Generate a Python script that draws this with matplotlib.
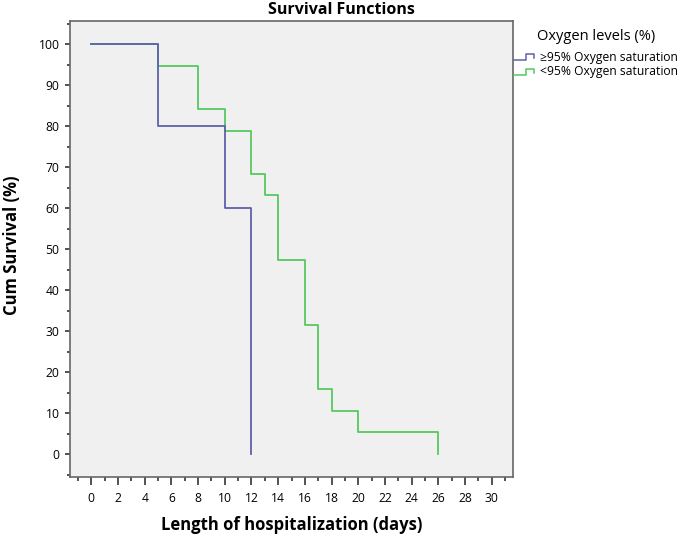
import matplotlib
matplotlib.use("Agg")
import matplotlib.pyplot as plt
from matplotlib.lines import Line2D
from matplotlib.ticker import MultipleLocator

# Data: step survival curves
high_days = [0, 5, 10, 12]
high_surv = [100, 80, 60, 0]
low_days = [0, 5, 8, 10, 12, 13, 14, 16, 17, 18, 20, 26]
low_surv = [100, 94.7, 84.2, 78.9, 68.4, 63.2, 47.4, 31.6, 15.8, 10.5, 5.3, 0]
series_labels = ["\u226595% Oxygen saturation", "<95% Oxygen saturation"]
legend_title = "Oxygen levels (%)"

blue = "#5d62aa"
green = "#55c95e"

plt.rcParams['font.family'] = ['Open Sans', 'DejaVu Sans']

fig = plt.figure(figsize=(6.85, 5.4), dpi=100)
ax = fig.add_axes([70/685, 1-477/540, (513-70)/685, (477-21)/540])
ax.set_facecolor("#f0f0f0")

def steps(days, surv):
    xs, ys = [days[0]], [surv[0]]
    for i in range(1, len(days)):
        xs += [days[i], days[i]]
        ys += [surv[i-1], surv[i]]
    return xs, ys

x1, y1 = steps(high_days, high_surv)
x2, y2 = steps(low_days, low_surv)
ax.plot(x2, y2, color=green, lw=1.3)
ax.plot(x1, y1, color=blue, lw=1.3)

ax.set_xlim(-1.6, 31.6)
ax.set_ylim(-5.6, 105.7)
ax.xaxis.set_major_locator(MultipleLocator(2))
ax.xaxis.set_minor_locator(MultipleLocator(1))
ax.yaxis.set_major_locator(MultipleLocator(10))
ax.yaxis.set_minor_locator(MultipleLocator(5))
ax.set_yticks(range(0, 101, 10))
ax.tick_params(axis='x', which='major', length=5.5, width=1.2, color="#333333", labelsize=8.7, pad=5)
ax.tick_params(axis='y', which='major', length=3.5, width=1.2, color="#333333", labelsize=8.7, pad=4)
ax.tick_params(axis='x', which='minor', length=3, width=1.2, color="#333333")
ax.tick_params(axis='y', which='minor', length=2.5, width=1.2, color="#333333")
for s in ax.spines.values():
    s.set_color("#666666")
    s.set_linewidth(1.2)

fig.text(292/685, 1-525/540, "Length of hospitalization (days)", ha='center', va='center',
         fontsize=12, fontweight='bold')
fig.text(12/685, 1-245/540, "Cum Survival (%)", ha='center', va='center', rotation=90,
         fontsize=12, fontweight='bold')
fig.text(0.498, 1-10/540, "Survival Functions", ha='center', va='center', fontsize=11.5, fontweight='bold')

fig.text(537/685, 1-37/540, legend_title, ha='left', va='center', fontsize=10.5)
fig.text(540/685, 1-57/540, series_labels[0], ha='left', va='center', fontsize=8.7)
fig.text(540/685, 1-72/540, series_labels[1], ha='left', va='center', fontsize=8.7)
for yy, c in [(57, blue), (72, green)]:
    xs = [514, 526, 526, 534, 534]
    ys = [yy + 3, yy + 3, yy - 3, yy - 3, yy + 1]
    fig.add_artist(Line2D([v/685 for v in xs], [1 - v/540 for v in ys], color=c, lw=1.1, transform=fig.transFigure))

fig.savefig("out.png", dpi=100)
